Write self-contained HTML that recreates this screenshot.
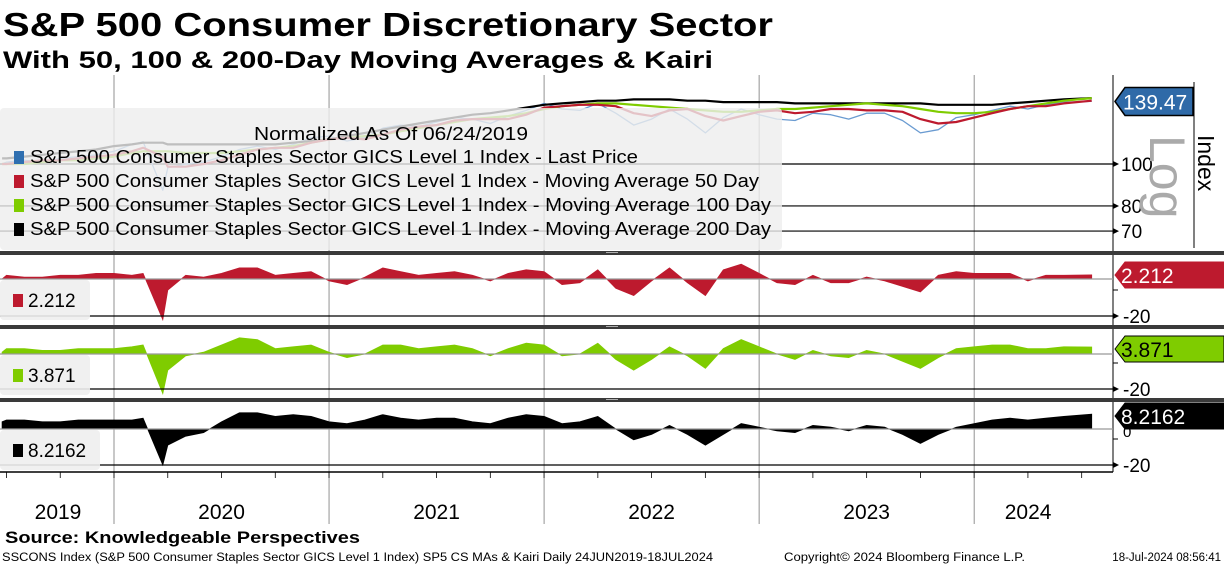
<!DOCTYPE html>
<html><head><meta charset="utf-8"><style>
body{margin:0;background:#fff;width:1224px;height:566px;overflow:hidden;font-family:"Liberation Sans",sans-serif}
svg text{font-family:"Liberation Sans",sans-serif}
</style></head><body>
<svg id="c" width="1224" height="566" xmlns="http://www.w3.org/2000/svg">
<text x="3" y="36" font-size="33" font-weight="bold" textLength="770" lengthAdjust="spacingAndGlyphs">S&amp;P 500 Consumer Discretionary Sector</text>
<text x="3" y="68" font-size="24" font-weight="bold" textLength="710" lengthAdjust="spacingAndGlyphs">With 50, 100 &amp; 200-Day Moving Averages &amp; Kairi</text>
</svg>
<script>
const dates=["2019-06-24","2019-07-01","2019-08-01","2019-09-01","2019-10-01","2019-11-01","2019-12-01",
"2020-01-01","2020-02-01","2020-02-20","2020-03-23","2020-04-01","2020-05-01","2020-06-01","2020-07-01","2020-08-01","2020-09-01","2020-10-01","2020-11-01","2020-12-01",
"2021-01-01","2021-02-01","2021-03-01","2021-04-01","2021-05-01","2021-06-01","2021-07-01","2021-08-01","2021-09-01","2021-10-01","2021-11-01","2021-12-01",
"2022-01-01","2022-02-01","2022-03-01","2022-04-01","2022-05-01","2022-06-01","2022-07-01","2022-08-01","2022-09-01","2022-10-01","2022-11-01","2022-12-01",
"2023-01-01","2023-02-01","2023-03-01","2023-04-01","2023-05-01","2023-06-01","2023-07-01","2023-08-01","2023-09-01","2023-10-01","2023-11-01","2023-12-01",
"2024-01-01","2024-02-01","2024-03-01","2024-04-01","2024-05-01","2024-06-01","2024-07-18"];
const price=[100,101,102,101,103,104,105, 107,111,112.6,87,98,100,101,104,108,110,108,111,115, 116,113,115,121,123,122,125,128,127,124,129,133, 138,134,133,138,131,123,127,134,127,118,128,134, 130,127,126,131,130,127,131,131,126,118,120,128, 130,133,136,134,137,139,139.47];
const ma50=[100,100,101,102,102,103,104, 105,107,109,104,98.6,98.6,100,102,105,108,109,109,112, 114,115,114,117,120,122,123,126,127,127,127,130, 135,136,137,137,136,131,129,133,134,129,126,129, 132,133,131,132,134,134,133,133,132,127,124,125, 128,131,134,136,136,138,140];
const ma100=[100,100,100,101,102,102,103, 104,106,107,107,107,106,106,106,107,108,109,110,112, 114,115,116,117,119,121,123,125,127,128,129,131, 134,136,137,138,138,137,136,135,134,133,132,132, 133,134,134,135,136,137,138,137,136,134,132,131, 131,132,134,136,138,140,142];
const ma200=[103,103,104,105,106,107,108, 110,111,112,112,111,111,111,111,111,111,111,112,113, 114,116,118,120,122,124,126,128,130,131,133,135, 137,138,139,140,140,141,141,141,140,140,139,139, 139,139,138,138,138,138,138,138,138,138,137,137, 137,137,138,139,140,141,142];
const kairi50=[0,2,1,1,2,2,3, 3,2,3,-22,-6,2,1,3,6,6,2,3,4, -1,-3,1,6,4,2,3,4,2,-1,3,5, 4,-3,-2,5,-5,-9,-1,6,-2,-9,5,8, 3,-2,-3,2,-2,-2,1,-1,-4,-7,2,4, 3,3,3,-1,2,2,2.212];
const kairi100=[1,3,3,2,2,3,3, 3,4,5,-22,-9,-1,1,5,9,8,3,4,5, 1,-2,0,5,5,3,4,5,3,-1,3,6, 5,-1,0,6,-3,-9,-3,4,-1,-8,3,8, 4,0,-3,2,-1,-2,2,0,-4,-8,-2,3, 4,5,5,3,3,4,3.871];
const kairi200=[4,5,5,4,4,5,5, 5,5,6,-20,-9,-4,-2,4,9,9,7,8,7, 4,3,5,8,6,5,6,6,4,3,6,8, 7,3,4,7,0,-6,-3,2,-3,-9,-3,3, 1,-1,-2,2,1,-1,2,1,-3,-8,-3,1, 3,5,6,5,6,7,8.2162];
const years=["2019","2020","2021","2022","2023","2024"];
const priceTicks=[100,80,70];

const S=document.getElementById('c');const NS='http://www.w3.org/2000/svg';
function mk(t,a,p){const e=document.createElementNS(NS,t);for(const k in a)e.setAttribute(k,a[k]);(p||S).appendChild(e);return e;}
function tm(d){const p=d.split('-').map(Number);return (p[0]-2019)*12+(p[1]-1)+(p[2]-1)/30.4;}
function X(d){return 114+(tm(d)-12)*17.92;}
function Yp(v){return 164-(Math.log10(v)-2)*433;}
const RIGHT=1113;
for(let i=1;i<years.length;i++){const x=X(years[i]+'-01-01');
 const g=mk('line',{x1:x,y1:75,x2:x,y2:524,stroke:'#777','stroke-width':0.8});
 }
const panels=[[kairi50,279,1.85,'#bd1a2e','2.212',275,316],[kairi100,354,1.8,'#7fcc00','3.871',349,389],[kairi200,429,1.8,'#000','8.2162',416,465]];
priceTicks.forEach(v=>{const y=Yp(v);const l=mk('line',{x1:0,y1:y,x2:RIGHT,y2:y,stroke:'#000','stroke-width':1.2});
 
 mk('path',{d:`M${RIGHT},${y-3}L${RIGHT+6},${y}L${RIGHT},${y+3}Z`,fill:'#000'});
 const t=mk('text',{x:RIGHT+8,y:y+7,'font-size':19});t.textContent=v;
 });
function line(arr,col,w,name){let d='';arr.forEach((v,i)=>{d+=(i?'L':'M')+X(dates[i]).toFixed(1)+','+Yp(v).toFixed(1);});
 const p=mk('path',{d:d,fill:'none',stroke:col,'stroke-width':w,'stroke-linejoin':'round'});
 }
line(price,'#6a9bd1',1.3,'price-line');
line(ma200,'#000',2.2,'ma200-line');
line(ma100,'#7fcc00',2.2,'ma100-line');
line(ma50,'#bd1a2e',2.2,'ma50-line');
const lg=mk('rect',{x:0,y:108,width:782,height:142,rx:4,fill:'rgba(238,238,238,0.8)'});

const nt=mk('text',{x:254,y:140,'font-size':18,textLength:274,lengthAdjust:'spacingAndGlyphs'});nt.textContent='Normalized As Of 06/24/2019';

const legItems=[['#2f6fb0','S&P 500 Consumer Staples Sector GICS Level 1 Index - Last Price',608],['#bd1a2e','S&P 500 Consumer Staples Sector GICS Level 1 Index - Moving Average 50 Day',729],['#7fcc00','S&P 500 Consumer Staples Sector GICS Level 1 Index - Moving Average 100 Day',741],['#000','S&P 500 Consumer Staples Sector GICS Level 1 Index - Moving Average 200 Day',741]];
legItems.forEach((it,i)=>{const y=163+i*24;
 const sw=mk('rect',{x:14,y:y-12,width:10,height:13,fill:it[0]});
 
 const t=mk('text',{x:30,y:y,'font-size':18.5,textLength:it[2],lengthAdjust:'spacingAndGlyphs'});t.textContent=it[1];
 });
mk('line',{x1:RIGHT,y1:75,x2:RIGHT,y2:472,stroke:'#000','stroke-width':1});
mk('line',{x1:1194,y1:82,x2:1194,y2:248,stroke:'#000','stroke-width':1});
const lgt=mk('text',{x:1150,y:135,'font-size':50,fill:'#aaa',transform:'rotate(90 1150 135)'});lgt.textContent='Log';

const ix=mk('text',{x:1198,y:135,'font-size':23,transform:'rotate(90 1198 135)'});ix.textContent='Index';

const py=Yp(price[price.length-1]);
const pf=mk('path',{d:`M${RIGHT+2},${py} L${RIGHT+12},${py-14} H1193 V${py+14} H${RIGHT+12} Z`,fill:'#2f6aa8',stroke:'#000','stroke-width':1.5});

const pt=mk('text',{x:1123,y:py+8,'font-size':21,fill:'#fff'});pt.textContent=price[price.length-1].toFixed(2);

[251,325,398].forEach(y=>{const s=mk('rect',{x:0,y:y,width:1224,height:4,fill:'#3a3a3a'});
 
 mk('line',{x1:606,y1:y+1.5,x2:618,y2:y+1.5,stroke:'#ccc','stroke-width':0.8});});
const pnames=['kairi-50','kairi-100','kairi-200'];
panels.forEach((P,k)=>{const [arr,z,s,col,lab,fy,ly]=P;
 let d=`M${X(dates[0])},${z}`;arr.forEach((v,i)=>{d+=`L${X(dates[i]).toFixed(1)},${(z-v*s).toFixed(1)}`;});
 d+=`L${X(dates[dates.length-1])},${z}Z`;
 const a=mk('path',{d:d,fill:col,stroke:col,'stroke-width':0.8});
 
 mk('line',{x1:0,y1:z,x2:RIGHT,y2:z,stroke:'#999','stroke-width':1.2});
 mk('line',{x1:0,y1:ly,x2:RIGHT,y2:ly,stroke:'#000','stroke-width':1.2});
 mk('path',{d:`M${RIGHT},${ly-3}L${RIGHT+6},${ly}L${RIGHT},${ly+3}Z`,fill:'#000'});
 mk('line',{x1:RIGHT,y1:ly-26,x2:RIGHT+5,y2:ly-26,stroke:'#000'});
 const tl=mk('text',{x:RIGHT+10,y:ly+7,'font-size':19});tl.textContent='-20';
 
 if(k==2){const t0=mk('text',{x:RIGHT+10,y:z+8,'font-size':15});t0.textContent='0';}
 const bx=mk('rect',{x:0,y:z+1,width:k==2?100:90,height:40,rx:4,fill:'rgba(238,238,238,0.9)'});
 
 const sw=mk('rect',{x:13,y:z+15,width:10,height:13,fill:col});
 
 const lt=mk('text',{x:28,y:z+28,'font-size':19});lt.textContent=lab;
 
 const f=mk('path',{d:`M${RIGHT+2},${fy} L${RIGHT+12},${fy-13} H1224 V${fy+13} H${RIGHT+12} Z`,fill:col,stroke:k==1?'#000':col,'stroke-width':1});
 
 const ft=mk('text',{x:1121,y:fy+8,'font-size':21,fill:k==1?'#000':'#fff'});ft.textContent=lab;
 });
mk('line',{x1:0,y1:472,x2:RIGHT,y2:472,stroke:'#000','stroke-width':1.5});
for(let m=6;m<=66;m+=3){const x=114+(m-12)*17.92;if(x<0||x>RIGHT)continue;mk('line',{x1:x,y1:472,x2:x,y2:478,stroke:'#000','stroke-width':0.8});}
years.forEach((yr,i)=>{const a=Math.max(2,X(yr+'-01-01'));const b=i<years.length-1?X(years[i+1]+'-01-01'):1092;
 const t=mk('text',{x:(a+b)/2+(i==5?-5:0),y:519,'font-size':21,'text-anchor':'middle'});t.textContent=yr;
 });
const src=mk('text',{x:5,y:543,'font-size':17,'font-weight':'bold',textLength:355,lengthAdjust:'spacingAndGlyphs'});src.textContent='Source: Knowledgeable Perspectives';

const f1=mk('text',{x:2,y:561,'font-size':11.5,textLength:711,lengthAdjust:'spacingAndGlyphs'});f1.textContent='SSCONS Index (S&P 500 Consumer Staples Sector GICS Level 1 Index) SP5 CS MAs & Kairi  Daily 24JUN2019-18JUL2024';

const f2=mk('text',{x:784,y:561,'font-size':11.5,textLength:241,lengthAdjust:'spacingAndGlyphs'});f2.textContent='Copyright© 2024 Bloomberg Finance L.P.';

const f3=mk('text',{x:1221,y:561,'font-size':11.5,'text-anchor':'end'});f3.textContent='18-Jul-2024 08:56:41';

</script>
</body></html>
